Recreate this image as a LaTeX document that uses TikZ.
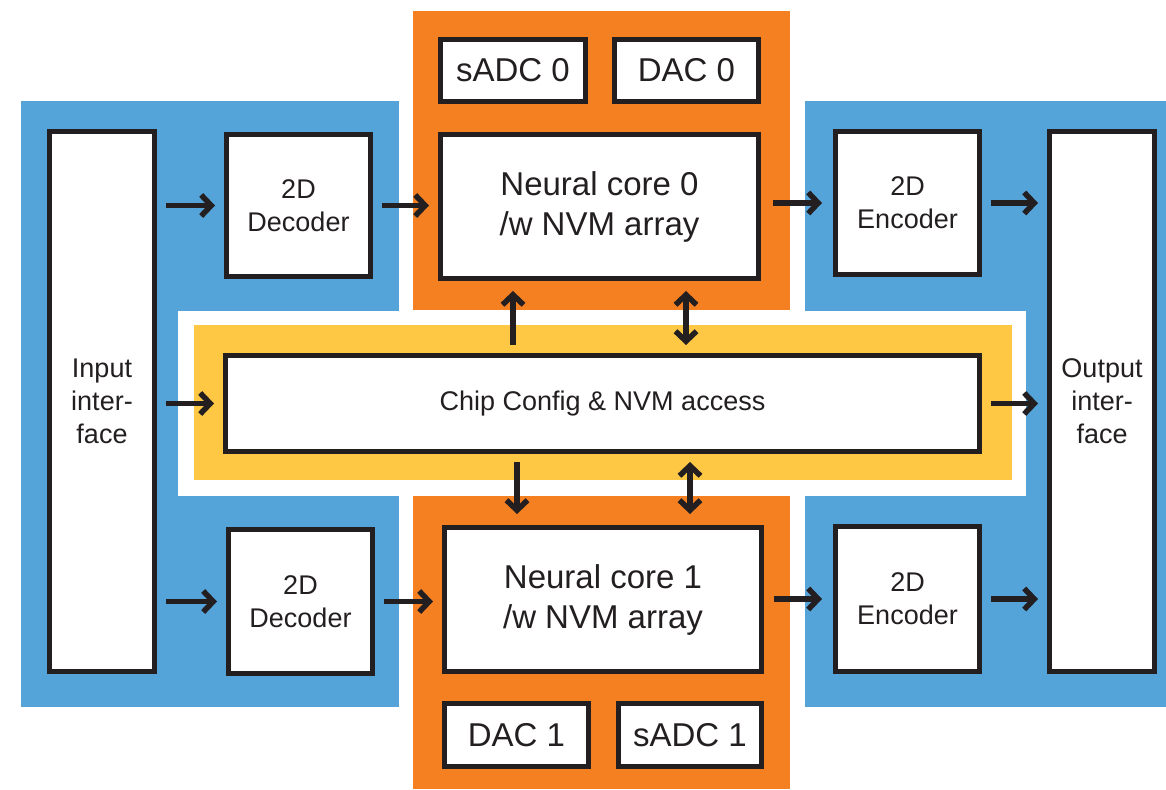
\documentclass[tikz,border=0pt]{standalone}
\usepackage{fontspec}
\setmainfont{Liberation Sans}
\usetikzlibrary{arrows.meta,calc}
\definecolor{cblue}{RGB}{84,163,217}
\definecolor{corange}{RGB}{245,128,34}
\definecolor{cyellow}{RGB}{254,200,68}
\definecolor{cdark}{RGB}{35,31,32}
\tikzset{
  blk/.style={draw=cdark, line width=5pt, fill=white, inner sep=0pt, text=cdark, align=center},
  small/.style={font=\fontsize{27}{33}\selectfont},
  big/.style={font=\fontsize{33}{40}\selectfont},
  tipc/.tip={Straight Barb[length=10pt,width=21pt,line width=5.5pt]},
  arr/.style={draw=cdark, line width=5.5pt, -tipc, shorten <=9pt, shorten >=9pt},
  darr/.style={draw=cdark, line width=5.5pt, tipc-tipc, shorten <=9pt, shorten >=9pt}
}
\begin{document}
\begin{tikzpicture}[x=1pt,y=-1pt]
\useasboundingbox (0,0) rectangle (1166,789);
% background regions
\fill[cblue] (21,101) rectangle (399,707);
\fill[cblue] (805,101) rectangle (1166,707);
\fill[corange] (413,11) rectangle (790,310);
\fill[corange] (413,495) rectangle (790,789);
\fill[white] (178,311) rectangle (1026,496);
\fill[cyellow] (194,325) rectangle (1012,480);
% blocks
\node[blk, small, minimum width=105pt, minimum height=540pt] (inp) at (102,401.5) {Input\\inter-\\face};
\node[blk, small, minimum width=105pt, minimum height=540pt] (outp) at (1102,401.5) {Output\\inter-\\face};
\node[blk, small, minimum width=144pt, minimum height=142pt] (dec0) at (298.5,205.5) {2D\\Decoder};
\node[blk, small, minimum width=144pt, minimum height=144pt] (dec1) at (300.5,601.5) {2D\\Decoder};
\node[blk, small, minimum width=144pt, minimum height=143pt] (enc0) at (907.5,203) {2D\\Encoder};
\node[blk, small, minimum width=144pt, minimum height=145pt] (enc1) at (907.5,599) {2D\\Encoder};
\node[blk, big, minimum width=145pt, minimum height=62pt] (sadc0) at (513,70.5) {sADC 0};
\node[blk, big, minimum width=144pt, minimum height=62pt] (dac0) at (686.5,70.5) {DAC 0};
\node[blk, big, minimum width=318pt, minimum height=144pt] (core0) at (599.5,206.5) {Neural core 0\\/w NVM array};
\node[blk, big, minimum width=317pt, minimum height=144pt] (core1) at (603,599.5) {Neural core 1\\/w NVM array};
\node[blk, big, minimum width=144pt, minimum height=63pt] (dac1) at (516.5,735) {DAC 1};
\node[blk, big, minimum width=143pt, minimum height=63pt] (sadc1) at (690,735) {sADC 1};
\node[blk, small, minimum width=754pt, minimum height=96pt] (chip) at (602.5,403.5) {Chip Config \& NVM access};
% horizontal connectors
\draw[arr] (inp.east |- dec0.west) -- (dec0.west);
\draw[arr] (dec0.east) -- (core0.west |- dec0.east);
\draw[arr, shorten <=12pt, shorten >=11pt] (core0.east |- enc0.west) -- (enc0.west);
\draw[arr] (enc0.east) -- (outp.west |- enc0.east);
\draw[arr] (inp.east |- chip.west) -- (chip.west);
\draw[arr] (chip.east) -- (outp.west |- chip.east);
\draw[arr] (inp.east |- dec1.west) -- (dec1.west);
\draw[arr] (dec1.east) -- (core1.west |- dec1.east);
\draw[arr, shorten <=10pt, shorten >=11pt] (core1.east |- enc1.west) -- (enc1.west);
\draw[arr] (enc1.east) -- (outp.west |- enc1.east);
% vertical connectors
\draw[arr, shorten <=8pt, shorten >=10pt] ([xshift=-86.5pt]core0.south |- chip.north) -- ([xshift=-86.5pt]core0.south);
\draw[darr, shorten <=8pt, shorten >=10pt] ([xshift=86.5pt]core0.south |- chip.north) -- ([xshift=86.5pt]core0.south);
\draw[arr, shorten <=8pt, shorten >=11pt] ([xshift=-86pt]core1.north |- chip.south) -- ([xshift=-86pt]core1.north);
\draw[darr, shorten <=8pt, shorten >=11pt] ([xshift=87pt]core1.north |- chip.south) -- ([xshift=87pt]core1.north);
\end{tikzpicture}
\end{document}
